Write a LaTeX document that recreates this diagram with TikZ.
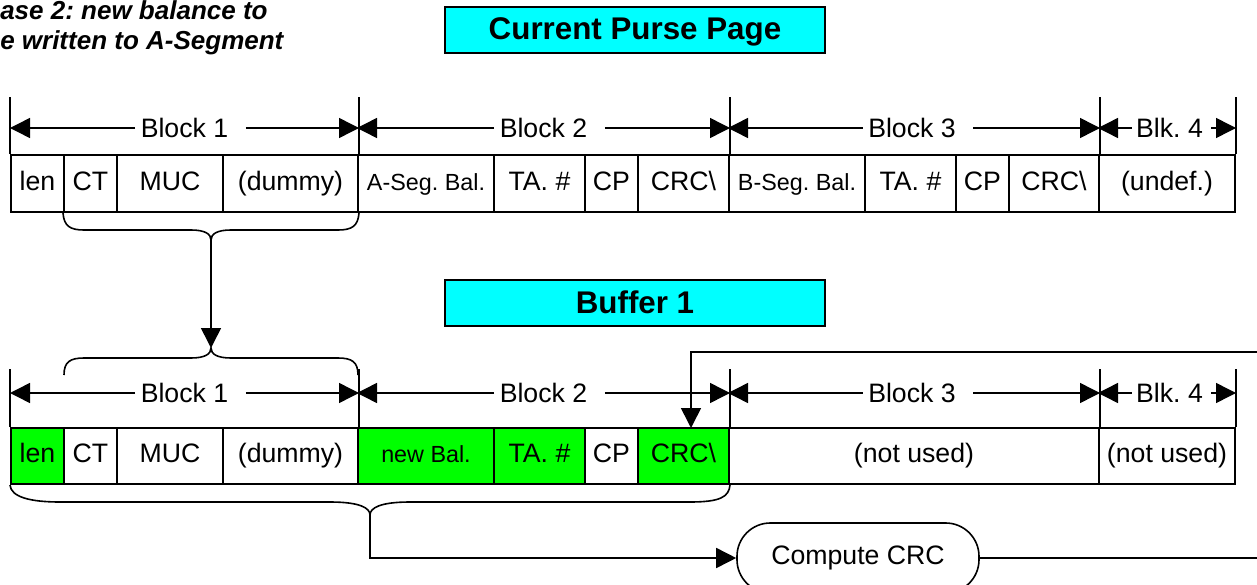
\documentclass[tikz,border=0pt]{standalone}
\usepackage{fontspec}
\setmainfont{Liberation Sans}
\usetikzlibrary{arrows.meta}
\definecolor{boxcyan}{RGB}{0,255,255}
\definecolor{newgreen}{RGB}{0,255,0}
\frenchspacing

\begin{document}
\begin{tikzpicture}[x=0.75pt,y=-0.75pt,
  % span={left}{right}{top}{bottom}, in picture units
  span/.style n args={4}{at={({(#1+#2)/2},{(#3+#4)/2})},
    minimum width={(#2-#1)*0.75pt},minimum height={(#4-#3)*0.75pt}},
  frame/.style={draw=black,line width=1.5pt},
  cell/.style={frame,inner sep=0pt,font=\fontsize{20}{24}\selectfont,
    text height=14.5pt,text depth=4.5pt},
  smallcell/.style={cell,font=\fontsize{17.5}{21}\selectfont},
  changed/.style={fill=newgreen},
  tick/.style={line width=1.2pt},
  dim/.style={line width=1.1pt,-{Triangle[length=15pt,width=15pt]}},
  blklabel/.style={inner sep=0pt,font=\fontsize{20}{24}\selectfont},
  titlebox/.style={draw=black,line width=2pt,fill=boxcyan,inner sep=0pt,
    font=\fontsize{23.5}{28}\selectfont\bfseries,text height=17pt,text depth=2pt},
  heading/.style={anchor=base west,inner sep=0pt,
    font=\fontsize{19.5}{23}\selectfont\bfseries\itshape},
  brace/.style={line width=1.2pt},
  flow/.style={line width=1.2pt,-{Triangle[length=15pt,width=15pt]}},
  process/.style={draw=black,line width=1.2pt,rounded corners=25pt,fill=white,
    inner sep=0pt,font=\fontsize{20}{24}\selectfont,text height=14.5pt,text depth=4.5pt},
]
\useasboundingbox (0,0) rectangle (1257,585);

% heading
\node[heading] (h1) at (0,20) {ase 2: new balance to};
\node[heading] (h2) at (0,50) {e written to A-Segment};

% titles
\node[titlebox,span={445}{825}{7}{53}] (title1) {Current Purse Page};
\node[titlebox,span={445}{825}{280}{326}] (title2) {Buffer 1};

% ---------- current purse page ----------
\node[cell,span={11}{64}{155}{212}] (u1) {len};
\node[cell,span={64}{117}{155}{212}] (u2) {CT};
\node[cell,span={117}{223}{155}{212}] (u3) {MUC};
\node[cell,span={223}{358}{155}{212}] (u4) {(dummy)};
\node[smallcell,span={358}{494}{155}{212}] (u5) {A-Seg. Bal.};
\node[cell,span={494}{585}{155}{212}] (u6) {TA. \#};
\node[cell,span={585}{638}{155}{212}] (u7) {CP};
\node[cell,span={638}{729}{155}{212}] (u8) {CRC\textbackslash};
\node[smallcell,span={729}{865}{155}{212}] (u9) {B-Seg. Bal.};
\node[cell,span={865}{956}{155}{212}] (u10) {TA. \#};
\node[cell,span={956}{1009}{155}{212}] (u11) {CP};
\node[cell,span={1009}{1099}{155}{212}] (u12) {CRC\textbackslash};
\node[cell,span={1099}{1235}{155}{212}] (u13) {(undef.)};

% block ticks
\foreach \c in {u1.north west,u4.north east,u8.north east,u12.north east,u13.north east}
  \draw[tick] (\c) -- ++(0,-57);

% block dimension lines
\node[blklabel] (ub1) at (184.5,128) {Block 1};
\node[blklabel] (ub2) at (543.5,128) {Block 2};
\node[blklabel] (ub3) at (912,128) {Block 3};
\node[blklabel] (ub4) at (1169.5,128) {Blk. 4};
\draw[dim] ([xshift=-4pt]ub1.west) -- (u1.north west |- ub1);
\draw[dim] ([xshift=13pt]ub1.east) -- (u4.north east |- ub1);
\draw[dim] ([xshift=-4pt]ub2.west) -- (u5.north west |- ub2);
\draw[dim] ([xshift=13pt]ub2.east) -- (u8.north east |- ub2);
\draw[dim] ([xshift=-4pt]ub3.west) -- (u9.north west |- ub3);
\draw[dim] ([xshift=13pt]ub3.east) -- (u12.north east |- ub3);
\draw[dim] ([xshift=-3pt]ub4.west) -- (u13.north west |- ub4);
\draw[dim] ([xshift=6pt]ub4.east) -- (u13.north east |- ub4);

% brace under CT..(dummy)
\coordinate (cusp1) at (211,240);
\draw[brace] (u2.south west) .. controls (64,226) and (70,230) .. (84,230) -- (191,230)
  .. controls (205,230) and (211,234) .. (cusp1)
  .. controls (211,234) and (217,230) .. (231,230) -- (338,230)
  .. controls (352,230) and (358,226) .. (u4.south east);

% ---------- buffer 1 ----------
\node[cell,changed,span={11}{64}{428}{484}] (l1) {len};
\node[cell,span={64}{117}{428}{484}] (l2) {CT};
\node[cell,span={117}{223}{428}{484}] (l3) {MUC};
\node[cell,span={223}{358}{428}{484}] (l4) {(dummy)};
\node[smallcell,changed,span={358}{494}{428}{484}] (l5) {new Bal.};
\node[cell,changed,span={494}{585}{428}{484}] (l6) {TA. \#};
\node[cell,span={585}{638}{428}{484}] (l7) {CP};
\node[cell,changed,span={638}{729}{428}{484}] (l8) {CRC\textbackslash};
\node[cell,span={729}{1099}{428}{484}] (l9) {(not used)};
\node[cell,span={1099}{1235}{428}{484}] (l10) {(not used)};

\foreach \c in {l1.north west,l4.north east,l8.north east,l9.north east,l10.north east}
  \draw[tick] (\c) -- ++(0,-58);

\node[blklabel] (lb1) at (184.5,393) {Block 1};
\node[blklabel] (lb2) at (543.5,393) {Block 2};
\node[blklabel] (lb3) at (912,393) {Block 3};
\node[blklabel] (lb4) at (1169.5,393) {Blk. 4};
\draw[dim] ([xshift=-4pt]lb1.west) -- (l1.north west |- lb1);
\draw[dim] ([xshift=13pt]lb1.east) -- (l4.north east |- lb1);
\draw[dim] ([xshift=-4pt]lb2.west) -- (l5.north west |- lb2);
\draw[dim] ([xshift=13pt]lb2.east) -- (l8.north east |- lb2);
\draw[dim] ([xshift=-4pt]lb3.west) -- (l9.north west |- lb3);
\draw[dim] ([xshift=13pt]lb3.east) -- (l9.north east |- lb3);
\draw[dim] ([xshift=-3pt]lb4.west) -- (l10.north west |- lb4);
\draw[dim] ([xshift=6pt]lb4.east) -- (l10.north east |- lb4);

% brace over CT..(dummy) in the buffer
\coordinate (cusp2) at (211,348);
\draw[brace] (64,375) .. controls (64,362) and (70,358) .. (84,358) -- (191,358)
  .. controls (205,358) and (211,354) .. (cusp2)
  .. controls (211,354) and (217,358) .. (231,358) -- (338,358)
  .. controls (352,358) and (358,362) .. (358,375);

% copy of the first block into the buffer
\draw[flow] (cusp1) -- (cusp2);

% brace under the buffer's CRC range
\coordinate (cusp3) at (370,515);
\draw[brace] (l1.south west) .. controls (11,497) and (30,502) .. (60,502) -- (330,502)
  .. controls (360,502) and (370,508) .. (cusp3)
  .. controls (370,508) and (380,502) .. (410,502) -- (690,502)
  .. controls (720,502) and (729,497) .. (l8.south east);

% CRC computation and write-back
\node[process,span={737}{979}{523}{593}] (crc) {Compute CRC};
\draw[flow] (cusp3) |- (crc.west);
\coordinate (loop) at (1262,352);
\coordinate (crcin) at (691,428);
\draw[flow] (crc.east) -- (crc.east -| loop) -- (loop) -- (crcin |- loop) -- (crcin);
\end{tikzpicture}
\end{document}
